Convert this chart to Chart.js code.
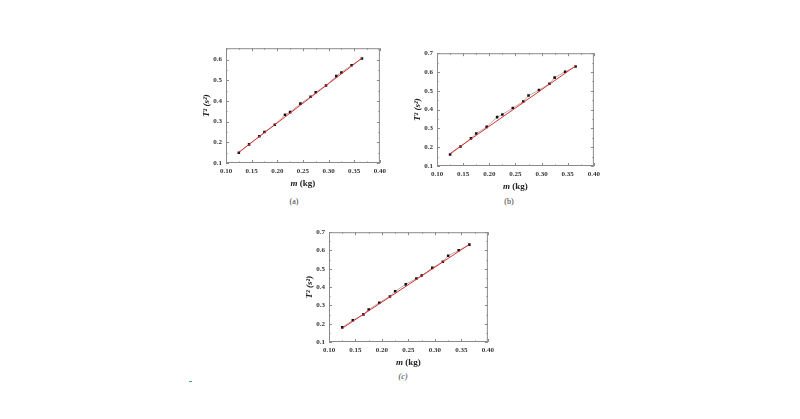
<!DOCTYPE html>
<html>
<head>
<meta charset="utf-8">
<script src="https://cdn.jsdelivr.net/npm/chart.js@4.4.1/dist/chart.umd.min.js"></script>
<style>
  body { margin: 0; background: #fff; width: 800px; height: 419px; position: relative; overflow: hidden; }
  canvas { position: absolute; }
  .cap { position: absolute; font: 8px "Liberation Serif", serif; color: #333; transform: translate(-50%, -50%); }
</style>
</head>
<body>
<canvas id="chartA" width="206" height="150" style="left:184px;top:40px"></canvas>
<canvas id="chartB" width="209" height="148" style="left:395px;top:45px"></canvas>
<canvas id="chartC" width="211" height="145" style="left:287px;top:224px"></canvas>
<div class="cap" style="left:294px;top:201px">(a)</div>
<div class="cap" style="left:509px;top:201px">(b)</div>
<div class="cap" style="left:403px;top:376px"><i>(c)</i></div>
<div style="position:absolute;left:189px;top:381px;width:3px;height:1px;background:#3aa8a0"></div>
<script>
const masses = [0.125, 0.145, 0.165, 0.175, 0.195, 0.215, 0.225, 0.245, 0.265, 0.275, 0.295, 0.315, 0.325, 0.345, 0.365];
const periodA = [0.150, 0.190, 0.229, 0.250, 0.285, 0.333, 0.346, 0.387, 0.420, 0.442, 0.475, 0.520, 0.538, 0.573, 0.605];
const periodB = [0.161, 0.204, 0.247, 0.273, 0.308, 0.360, 0.374, 0.409, 0.443, 0.475, 0.504, 0.537, 0.570, 0.601, 0.629];
const periodC = [0.180, 0.219, 0.251, 0.278, 0.315, 0.349, 0.377, 0.415, 0.447, 0.463, 0.505, 0.539, 0.571, 0.601, 0.632];
// extremos das retas ajustadas (vermelhas)
const fitA = [[0.125, 0.152], [0.365, 0.607]];
const fitB = [[0.125, 0.166], [0.365, 0.632]];
const fitC = [[0.125, 0.175], [0.365, 0.633]];
const xTicks = [0.10, 0.15, 0.20, 0.25, 0.30, 0.35, 0.40];

const serif = '"Liberation Serif", "DejaVu Serif", serif';

// moldura, ticks internos e titulos dos eixos
const framePlugin = {
  id: 'frame',
  afterDraw(chart) {
    const c = chart.ctx, a = chart.chartArea;
    const xs = chart.scales.x, ys = chart.scales.y;
    c.save();
    c.strokeStyle = '#8a8a8a';
    c.lineWidth = 1;
    c.strokeRect(a.left + 0.5, a.top + 0.5, a.right - a.left - 1, a.bottom - a.top - 1);
    c.beginPath();
    for (let i = 0; i <= 12; i++) {
      const v = 0.10 + i * 0.025;
      const px = Math.round(xs.getPixelForValue(v)) + 0.5;
      const len = i % 2 === 0 ? 3 : 1.5;
      c.moveTo(px, a.bottom); c.lineTo(px, a.bottom - len);
      c.moveTo(px, a.top); c.lineTo(px, a.top + len);
    }
    for (let i = 0; 0.1 + i * 0.05 <= ys.max + 0.0001; i++) {
      const v = 0.1 + i * 0.05;
      const py = Math.round(ys.getPixelForValue(v)) + 0.5;
      const len = i % 2 === 0 ? 3 : 1.5;
      c.moveTo(a.left, py); c.lineTo(a.left + len, py);
      c.moveTo(a.right, py); c.lineTo(a.right - len, py);
    }
    c.stroke();

    c.fillStyle = '#222';
    c.textBaseline = 'middle';
    const cx = (a.left + a.right) / 2;
    const ty = a.bottom + 21;
    c.font = 'italic bold 9px ' + serif;
    const w1 = c.measureText('m').width;
    c.font = 'bold 9px ' + serif;
    const w2 = c.measureText(' (kg)').width;
    const sx = cx - (w1 + w2) / 2;
    c.textAlign = 'left';
    c.font = 'italic bold 9px ' + serif;
    c.fillText('m', sx, ty);
    c.font = 'bold 9px ' + serif;
    c.fillText(' (kg)', sx + w1, ty);

    c.translate(a.left - 19, (a.top + a.bottom) / 2);
    c.rotate(-Math.PI / 2);
    c.textAlign = 'center';
    c.font = 'italic bold 9px ' + serif;
    c.fillText('T\u00B2 (s\u00B2)', 0, 0);
    c.restore();
  }
};

function makeChart(id, values, fit, yMax, pad) {
  new Chart(document.getElementById(id), {
    type: 'scatter',
    data: {
      datasets: [
        {
          data: fit.map(p => ({ x: p[0], y: p[1] })),
          showLine: true,
          borderColor: '#e03030',
          borderWidth: 1,
          pointRadius: 0
        },
        {
          data: masses.map((m, i) => ({ x: m, y: values[i] })),
          showLine: true,
          borderColor: 'rgba(40,40,40,0.6)',
          borderWidth: 0.6,
          backgroundColor: '#111',
          pointStyle: 'rect',
          pointRadius: 1.8,
          pointBorderWidth: 0
        }
      ]
    },
    options: {
      responsive: false,
      animation: false,
      layout: { padding: pad },
      plugins: { legend: { display: false }, tooltip: { enabled: false } },
      scales: {
        x: {
          type: 'linear', min: 0.10, max: 0.40,
          afterBuildTicks: s => { s.ticks = xTicks.map(v => ({ value: v })); },
          afterFit: s => { s.height = 27; },
          grid: { display: false, drawTicks: false }, border: { display: false },
          ticks: { padding: 4, color: '#333', maxRotation: 0, minRotation: 0, autoSkip: false,
                   font: { family: serif, size: 7, weight: 'bold' },
                   callback: v => v.toFixed(2) }
        },
        y: {
          type: 'linear', min: 0.1, max: yMax,
          afterBuildTicks: s => {
            const t = [];
            for (let v = 1; v / 10 <= yMax + 0.0001; v++) t.push({ value: v / 10 });
            s.ticks = t;
          },
          afterFit: s => { s.width = 42; },
          grid: { display: false, drawTicks: false }, border: { display: false },
          ticks: { padding: 4, color: '#333', autoSkip: false,
                   font: { family: serif, size: 7, weight: 'bold' },
                   callback: v => v.toFixed(1) }
        }
      }
    },
    plugins: [framePlugin]
  });
}

makeChart('chartA', periodA, fitA, 0.655, { top: 6, right: 6 });
makeChart('chartB', periodB, fitB, 0.7, { top: 6, right: 4 });
makeChart('chartC', periodC, fitC, 0.7, { top: 6, right: 4 });
</script>
</body>
</html>
